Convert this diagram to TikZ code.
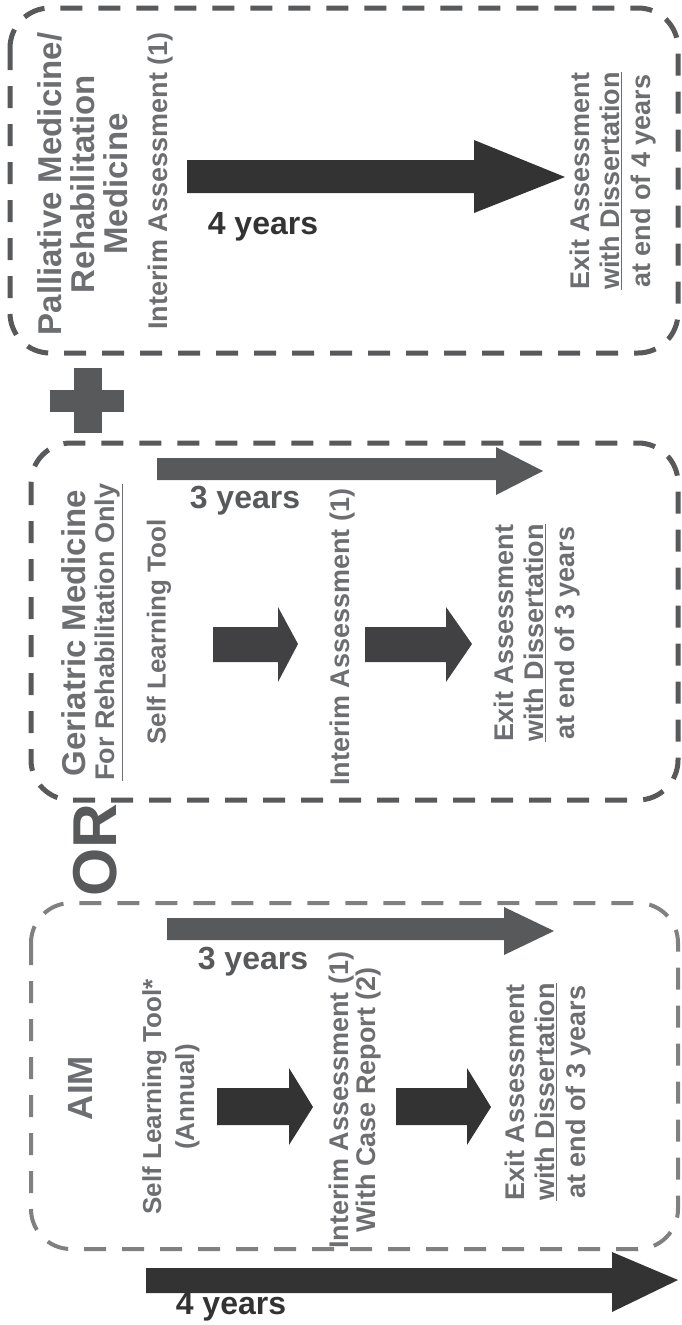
\documentclass[tikz,border=0pt]{standalone}
\usepackage{fontspec}
\setmainfont{Liberation Sans}
\definecolor{boxgray}{HTML}{58595B}
\definecolor{boxlight}{HTML}{808080}
\definecolor{txtgray}{HTML}{6D6E71}
\definecolor{arrowdark}{HTML}{333333}
\definecolor{arrowmid}{HTML}{58595B}
\definecolor{arrowsmall}{HTML}{414042}
\begin{document}
\begin{tikzpicture}[x=1pt,y=-1pt,
  phase/.style={draw=boxgray,line width=5pt,dash pattern=on 22pt off 16pt,rounded corners=40pt},
  vtext/.style={rotate=90,inner sep=0pt,align=center,text=txtgray,font=\bfseries\fontsize{27}{30.5}\selectfont},
  bigtext/.style={vtext,font=\bfseries\fontsize{33}{33}\selectfont},
  years/.style={inner sep=0pt,font=\bfseries\fontsize{32}{32}\selectfont}]
\useasboundingbox (0,0) rectangle (682,1325);

\draw[phase] (10,8) rectangle (678,353);
\node[bigtext] (pall) at (83,184) {Palliative Medicine/\\Rehabilitation\\Medicine};
\node[vtext] (interimP) at (161,181) {Interim Assessment (1)};
\fill[arrowdark] (187,160) -- (474,160) -- (474,140) -- (565,177) -- (474,213) -- (474,193) -- (187,193) -- cycle;
\node[years,text=arrowdark] (yearsP) at (263,227) {4 years};
\node[vtext] (exitP) at (613,181) {Exit Assessment\\\underline{with Dissertation}\\at end of 4 years};

\fill[boxgray] (74,368) rectangle (102,433);
\fill[boxgray] (50,390) rectangle (124,412);

\draw[phase] (31,443) rectangle (678,800);
\node[bigtext] (ger) at (74,633) {Geriatric Medicine};
\node[vtext] (rehab) at (109,632) {\underline{For Rehabilitation Only}};
\node[vtext,font=\bfseries\fontsize{26}{30}\selectfont] (selfG) at (159,632) {Self Learning Tool};
\fill[arrowmid] (157,458) -- (496,458) -- (496,447) -- (543,471) -- (496,495) -- (496,480) -- (157,480) -- cycle;
\node[years,text=arrowmid] (yearsG) at (245,501) {3 years};
\fill[arrowsmall] (213,627) -- (278,627) -- (278,607) -- (298,644) -- (278,682) -- (278,662) -- (213,662) -- cycle;
\node[vtext] (interimG) at (343,637) {Interim Assessment (1)};
\fill[arrowsmall] (365,627) -- (446,627) -- (446,607) -- (472,644) -- (446,682) -- (446,662) -- (365,662) -- cycle;
\node[vtext] (exitG) at (537,633) {Exit Assessment\\\underline{with Dissertation}\\at end of 3 years};

\node[rotate=90,inner sep=0pt,text=boxgray,font=\bfseries\fontsize{62}{62}\selectfont] (or) at (95,850) {OR};

\draw[phase,draw=boxlight,line width=4pt] (31,903) rectangle (678,1249);
\node[bigtext,font=\bfseries\fontsize{35}{35}\selectfont] (aim) at (80,1088) {AIM};
\node[vtext,font=\bfseries\fontsize{26}{33}\selectfont] (selfA) at (171,1097) {Self Learning Tool*\\(Annual)};
\fill[arrowmid] (167,918) -- (504,918) -- (504,907) -- (554,931) -- (504,955) -- (504,940) -- (167,940) -- cycle;
\node[years,text=arrowmid] (yearsA) at (253,962) {3 years};
\fill[arrowdark] (217,1088) -- (289,1088) -- (289,1068) -- (313,1107) -- (289,1145) -- (289,1125) -- (217,1125) -- cycle;
\node[vtext,font=\bfseries\fontsize{27}{24}\selectfont] (interimA) at (355,1100) {Interim Assessment (1)\\With Case Report (2)};
\fill[arrowdark] (396,1088) -- (467,1088) -- (467,1068) -- (491,1107) -- (467,1145) -- (467,1125) -- (396,1125) -- cycle;
\node[vtext] (exitA) at (548,1092) {Exit Assessment\\\underline{with Dissertation}\\at end of 3 years};

\fill[arrowdark] (146,1268) -- (612,1268) -- (612,1252) -- (678,1280) -- (612,1312) -- (612,1293) -- (146,1293) -- cycle;
\node[years,text=arrowdark] (yearsT) at (231,1307) {4 years};
\end{tikzpicture}
\end{document}
